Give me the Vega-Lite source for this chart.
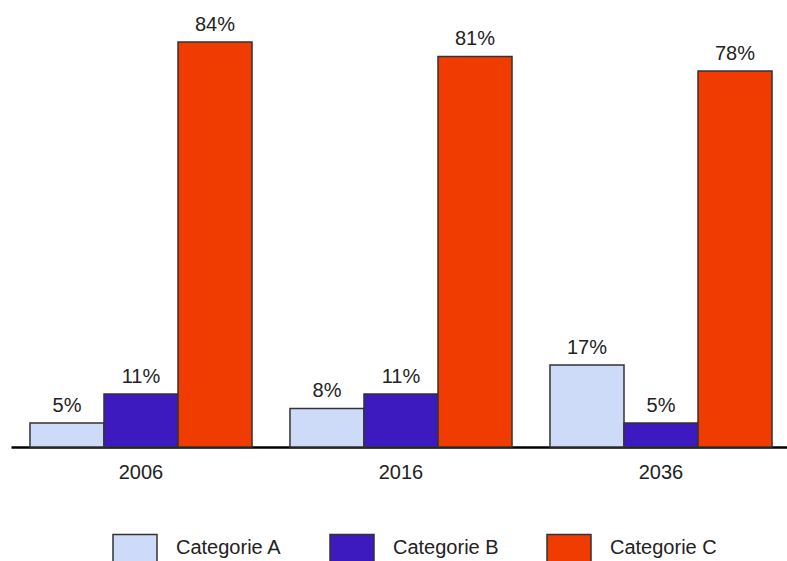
{
  "$schema": "https://vega.github.io/schema/vega-lite/v6.json",
  "width": 780,
  "height": 447,
  "autosize": "none",
  "padding": {"left": 11, "top": 0, "right": 0, "bottom": 114},
  "background": "white",
  "config": {
    "view": {"stroke": null},
    "font": "Liberation Sans"
  },
  "data": {
    "values": [
      {"year": "2006", "category": "Categorie A", "value": 0.05},
      {"year": "2006", "category": "Categorie B", "value": 0.11},
      {"year": "2006", "category": "Categorie C", "value": 0.84},
      {"year": "2016", "category": "Categorie A", "value": 0.08},
      {"year": "2016", "category": "Categorie B", "value": 0.11},
      {"year": "2016", "category": "Categorie C", "value": 0.81},
      {"year": "2036", "category": "Categorie A", "value": 0.17},
      {"year": "2036", "category": "Categorie B", "value": 0.05},
      {"year": "2036", "category": "Categorie C", "value": 0.78}
    ]
  },
  "encoding": {
    "x": {
      "field": "year",
      "type": "nominal",
      "scale": {"paddingInner": 0.146, "paddingOuter": 0.073},
      "axis": {
        "title": null,
        "labelAngle": 0,
        "ticks": false,
        "domainColor": "#000000",
        "domainWidth": 2.5,
        "labelFontSize": 20,
        "labelColor": "#222222",
        "labelPadding": 15,
        "labelFont": "Liberation Sans"
      }
    },
    "xOffset": {
      "field": "category",
      "type": "nominal",
      "scale": {"paddingInner": 0, "paddingOuter": 0}
    },
    "y": {
      "field": "value",
      "type": "quantitative",
      "scale": {"domain": [0, 0.927], "nice": false},
      "axis": null
    }
  },
  "layer": [
    {
      "mark": {"type": "bar", "stroke": "#333333", "strokeWidth": 1.5},
      "encoding": {
        "color": {
          "field": "category",
          "type": "nominal",
          "scale": {
            "domain": ["Categorie A", "Categorie B", "Categorie C"],
            "range": ["#cddbf8", "#3c1ac0", "#f03c00"]
          },
          "legend": {
            "title": null,
            "orient": "none",
            "legendX": 101,
            "legendY": 525,
            "direction": "horizontal",
            "columns": 3,
            "symbolType": "M-1,-0.64H1V0.64H-1Z",
            "symbolSize": 1936,
            "symbolStrokeColor": "#333333",
            "symbolStrokeWidth": 1.5,
            "symbolOpacity": 1,
            "labelFontSize": 20,
            "labelColor": "#222222",
            "labelOffset": 18,
            "labelFont": "Liberation Sans",
            "columnPadding": 45
          }
        }
      }
    },
    {
      "mark": {"type": "text", "baseline": "alphabetic", "dy": -11, "fontSize": 20, "color": "#222222"},
      "encoding": {
        "text": {"field": "value", "type": "quantitative", "format": ".0%"}
      }
    }
  ]
}
